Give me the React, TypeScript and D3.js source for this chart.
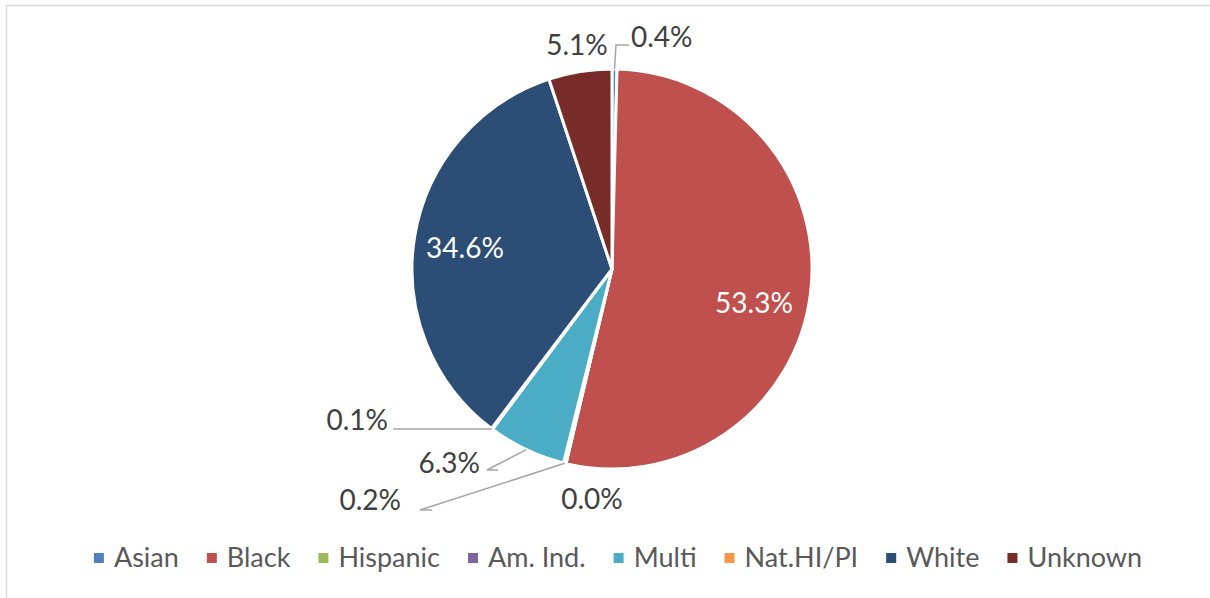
import React, { useEffect, useRef } from "react";
import * as d3 from "d3";

const categories = ["Asian", "Black", "Hispanic", "Am. Ind.", "Multi", "Nat.HI/PI", "White", "Unknown"];
const percents = [0.4, 53.3, 0.0, 0.2, 6.3, 0.1, 34.6, 5.1];
const colors = ["#4F81BD", "#C0504D", "#9BBB59", "#8064A2", "#4BACC6", "#F79646", "#2C4D75", "#772C2A"];

// label layout (relative to pie centre): text anchor point and optional leader polyline elbow
type LabelLayout = { dx: number; dy: number; anchor: string; color: string; leader?: [number, number][] };
const labelLayout: LabelLayout[] = [
  { dx: 19, dy: -232, anchor: "start", color: "#404040", leader: [[4, -224], [17, -224]] },
  { dx: 142, dy: 34, anchor: "middle", color: "#ffffff" },
  { dx: -20, dy: 230, anchor: "middle", color: "#404040" },
  { dx: -211, dy: 231, anchor: "end", color: "#404040", leader: [[-192, 241], [-180, 241]] },
  { dx: -132, dy: 194, anchor: "end", color: "#404040", leader: [[-125, 201], [-114, 201]] },
  { dx: -224, dy: 151, anchor: "end", color: "#404040", leader: [[-219, 160]] },
  { dx: -147, dy: -21, anchor: "middle", color: "#ffffff" },
  { dx: -35, dy: -224, anchor: "middle", color: "#404040" },
];

const W = 1210, H = 598;
const CX = 612, CY = 269, R = 200;
const FONT = "Lato, 'Open Sans', sans-serif";
const FS = 28;

export default function App() {
  const ref = useRef<SVGSVGElement>(null);
  useEffect(() => {
    const svg = d3.select(ref.current);
    svg.selectAll("*").remove();

    svg.append("rect").attr("x", 0).attr("y", 0).attr("width", W).attr("height", H).attr("fill", "#fff");
    svg.append("path").attr("d", `M6.5,${H} V5.5 H${W}`).attr("fill", "none").attr("stroke", "#d9d9d9").attr("stroke-width", 1.5);

    const data = categories.map((c, i) => ({ c, v: percents[i], i }));
    const pie = d3.pie<any>().value((d) => d.v).sort(null).startAngle(0).endAngle(2 * Math.PI);
    const arcs = pie(data);
    const arc = d3.arc<any>().innerRadius(0).outerRadius(R);

    const g = svg.append("g").attr("transform", `translate(${CX},${CY})`);
    g.selectAll("path.slice")
      .data(arcs)
      .join("path")
      .attr("class", "slice")
      .attr("d", arc as any)
      .attr("fill", (d: any) => colors[d.data.i])
      .attr("stroke", "#fff")
      .attr("stroke-width", 3)
      .attr("stroke-linejoin", "round");

    // leaders
    arcs.forEach((a: any, i) => {
      const L = labelLayout[i];
      if (!L.leader) return;
      const mid = (a.startAngle + a.endAngle) / 2;
      const start: [number, number] = [R * Math.sin(mid), -R * Math.cos(mid)];
      const pts = [start, ...L.leader];
      g.append("path")
        .attr("d", d3.line()(pts as any) as string)
        .attr("fill", "none")
        .attr("stroke", "#a6a6a6")
        .attr("stroke-width", 1.5);
    });

    arcs.forEach((a: any, i) => {
      const L = labelLayout[i];
      g.append("text")
        .attr("x", L.dx)
        .attr("y", L.dy)
        .attr("dy", "0.35em")
        .attr("text-anchor", L.anchor)
        .attr("fill", L.color)
        .attr("font-family", FONT)
        .attr("font-size", FS)
        .text(d3.format(".1f")(a.data.v) + "%");
    });

    // legend
    const lg = svg.append("g");
    const items = categories.map((c, i) => {
      const it = lg.append("g");
      it.append("rect").attr("x", 0).attr("y", -5).attr("width", 10).attr("height", 10).attr("fill", colors[i]);
      const t = it.append("text").attr("x", 20).attr("dy", "0.35em").attr("font-family", FONT).attr("font-size", 27).attr("fill", "#595959").text(c);
      const w = (t.node() as SVGTextElement).getComputedTextLength();
      return { it, w: 20 + w };
    });
    const gap = 28;
    const total = items.reduce((s, d) => s + d.w, 0) + gap * (items.length - 1);
    let x = 618 - total / 2;
    items.forEach((d) => {
      d.it.attr("transform", `translate(${x},558)`);
      x += d.w + gap;
    });
  }, []);

  return (
    <svg ref={ref} width={W} height={H} style={{ position: "absolute", left: 0, top: 0, display: "block" }} />
  );
}
